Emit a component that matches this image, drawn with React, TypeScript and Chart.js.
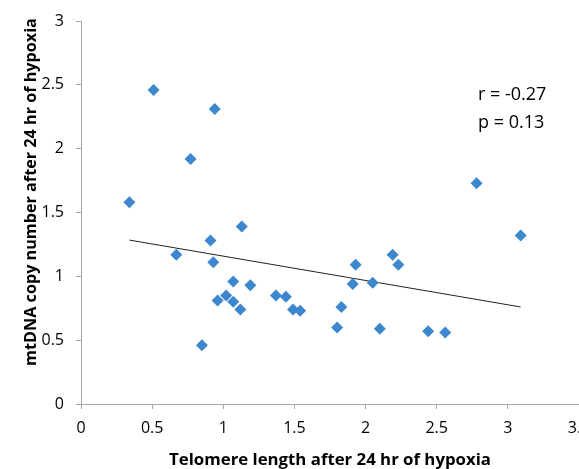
import React, { useEffect, useRef } from 'react';
import { Chart, registerables } from 'chart.js';

Chart.register(...registerables);

// Telomere length (x) and mtDNA copy number (y) after 24 hr of hypoxia
const xValues = [0.51, 0.94, 0.77, 0.34, 1.13, 0.91, 0.67, 0.93, 1.07, 1.19, 0.96, 1.02, 1.07, 1.12, 0.85, 1.37, 1.44, 1.49, 1.54, 2.78, 3.09, 2.19, 2.23, 1.93, 1.91, 2.05, 1.83, 1.80, 2.10, 2.44, 2.56];
const yValues = [2.46, 2.31, 1.92, 1.58, 1.39, 1.28, 1.17, 1.11, 0.96, 0.93, 0.81, 0.85, 0.80, 0.74, 0.46, 0.85, 0.84, 0.74, 0.73, 1.73, 1.32, 1.17, 1.09, 1.09, 0.94, 0.95, 0.76, 0.60, 0.59, 0.57, 0.56];

// Linear trend line end points
const trendX = [0.34, 3.09];
const trendY = [1.284, 0.76];

const xTickLabels = ['0', '0.5', '1', '1.5', '2', '2.5', '3', '3.5'];
const yTickLabels = ['0', '0.5', '1', '1.5', '2', '2.5', '3'];

const statLabels = ['r = -0.27', 'p = 0.13'];
const xTitle = 'Telomere length after 24 hr of hypoxia';
const yTitle = 'mtDNA copy number after 24 hr of hypoxia';

const VIEW_W = 579;
const VIEW_H = 469;
const INNER_W = 600;
const FONT = '"Open Sans", "DejaVu Sans", sans-serif';

const annotations = {
  id: 'annotations',
  afterDraw(chart: any) {
    const ctx = chart.ctx as CanvasRenderingContext2D;
    ctx.save();
    ctx.fillStyle = '#000';
    ctx.font = `18px ${FONT}`;
    ctx.textAlign = 'left';
    ctx.textBaseline = 'middle';
    ctx.fillText(statLabels[0], 478, 95);
    ctx.fillText(statLabels[1], 478, 123);
    ctx.translate(31, 192);
    ctx.rotate(-Math.PI / 2);
    ctx.font = `bold 16.2px ${FONT}`;
    ctx.textAlign = 'center';
    ctx.fillText(yTitle, 0, 0);
    ctx.restore();
  },
};

export default function App() {
  const ref = useRef<HTMLCanvasElement | null>(null);

  useEffect(() => {
    if (!ref.current) return;
    const axisColor = '#A6A6A6';
    const chart = new Chart(ref.current, {
      type: 'scatter',
      data: {
        datasets: [
          {
            type: 'scatter',
            data: xValues.map((x, i) => ({ x, y: yValues[i] })),
            pointStyle: 'rectRot',
            pointRadius: 6,
            pointHoverRadius: 6,
            backgroundColor: '#3C87CD',
            borderColor: '#3C87CD',
            borderWidth: 0,
            order: 1,
          },
          {
            type: 'line',
            data: trendX.map((x, i) => ({ x, y: trendY[i] })),
            borderColor: '#222',
            borderWidth: 1,
            pointRadius: 0,
            fill: false,
            order: 2,
          } as any,
        ],
      },
      options: {
        responsive: false,
        animation: false,
        events: [],
        layout: { padding: { left: 0, right: INNER_W - VIEW_W, top: 21, bottom: 0 } },
        plugins: { legend: { display: false }, tooltip: { enabled: false } },
        scales: {
          x: {
            type: 'linear',
            min: 0,
            max: 3.5,
            afterBuildTicks: (s: any) => {
              s.ticks = xTickLabels.map((l) => ({ value: Number(l) }));
            },
            afterFit: (s: any) => {
              s.height = 65;
              s.paddingLeft = 0;
              s.paddingRight = 0;
            },
            ticks: {
              callback: (_v: any, i: number) => xTickLabels[i],
              font: { family: FONT, size: 16 },
              color: '#000',
              padding: 10,
              maxRotation: 0,
              autoSkip: false,
            },
            grid: { drawOnChartArea: false, drawTicks: true, tickLength: 5, color: axisColor },
            border: { color: axisColor },
            title: {
              display: true,
              text: xTitle,
              color: '#000',
              font: { family: FONT, size: 16.8, weight: 'bold', lineHeight: 1 },
              padding: { top: 0, bottom: 0 },
            },
          },
          y: {
            type: 'linear',
            min: 0,
            max: 3,
            afterBuildTicks: (s: any) => {
              s.ticks = yTickLabels.map((l) => ({ value: Number(l) }));
            },
            afterFit: (s: any) => {
              s.width = 81;
              s.paddingTop = 0;
              s.paddingBottom = 0;
            },
            ticks: {
              callback: (_v: any, i: number) => yTickLabels[i],
              font: { family: FONT, size: 16 },
              color: '#000',
              padding: 12,
              autoSkip: false,
            },
            grid: { drawOnChartArea: false, drawTicks: true, tickLength: 5, color: axisColor },
            border: { color: axisColor },
          },
        },
      } as any,
      plugins: [annotations],
    });
    return () => chart.destroy();
  }, []);

  return (
    <div
      style={{
        position: 'fixed',
        left: 0,
        top: 0,
        width: VIEW_W,
        height: VIEW_H,
        overflow: 'hidden',
        background: '#fff',
      }}
    >
      <canvas ref={ref} width={INNER_W} height={VIEW_H} style={{ display: 'block' }} />
    </div>
  );
}
